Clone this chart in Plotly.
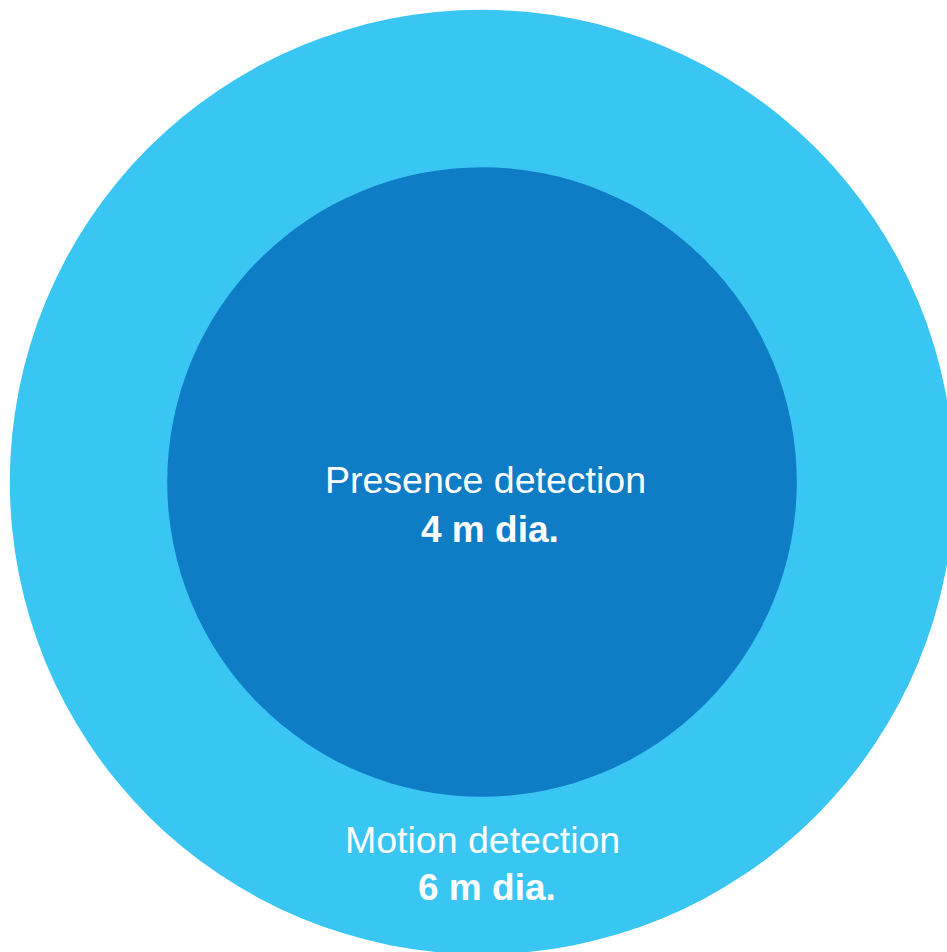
import plotly.graph_objects as go

# Data
zones = ["Motion detection", "Presence detection"]
diameters_m = [6, 4]
labels_value = ["6 m dia.", "4 m dia."]
colors = ["#3AC6F3", "#0E7DC5"]

W, H = 947, 952
px_per_m = 157.4
cx_px, cy_px = 482, 482

x_range = [-cx_px / px_per_m, (W - cx_px) / px_per_m]
y_range = [-(H - cy_px) / px_per_m, cy_px / px_per_m]

fig = go.Figure()

shapes = []
for d, c in zip(diameters_m, colors):
    r = d / 2
    shapes.append(dict(type="circle", xref="x", yref="y",
                       x0=-r, x1=r, y0=-r, y1=r,
                       fillcolor=c, line=dict(width=0), layer="below"))

# invisible trace to establish axes
fig.add_trace(go.Scatter(x=[0], y=[0], mode="markers",
                         marker=dict(opacity=0), hoverinfo="skip", showlegend=False))

font_reg = dict(family="Liberation Sans, Arial, sans-serif", size=37.5, color="white")
font_bold = dict(family="Liberation Sans, Arial, sans-serif", size=37, color="white")

def py(pix):
    return 1 - pix / H

def px(pix):
    return pix / W

annotations = [
    dict(text=zones[1], x=px(485), y=py(480), font=font_reg),
    dict(text="<b>" + labels_value[1] + "</b>", x=px(490), y=py(529), font=font_bold),
    dict(text=zones[0], x=px(482), y=py(840), font=font_reg),
    dict(text="<b>" + labels_value[0] + "</b>", x=px(487), y=py(887), font=font_bold),
]
for a in annotations:
    a.update(xref="paper", yref="paper", showarrow=False,
             xanchor="center", yanchor="middle")

fig.update_layout(
    width=W, height=H,
    margin=dict(l=0, r=0, t=0, b=0),
    paper_bgcolor="white", plot_bgcolor="white",
    xaxis=dict(range=x_range, visible=False, fixedrange=True),
    yaxis=dict(range=y_range, visible=False, fixedrange=True),
    shapes=shapes,
    annotations=annotations,
    showlegend=False,
)

fig.write_html(
    "out.html",
    config={"displayModeBar": False, "staticPlot": True},
    post_script="document.body.style.margin='0';"
                "document.documentElement.style.overflow='hidden';"
                "document.body.style.overflow='hidden';",
)
